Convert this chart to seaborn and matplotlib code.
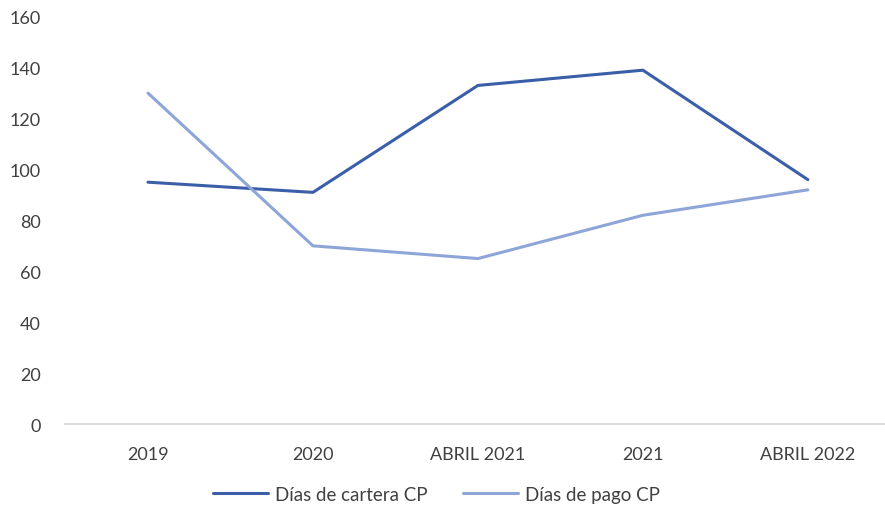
import pandas as pd
import seaborn as sns
import matplotlib.pyplot as plt

# Datos
periodos = ['2019', '2020', 'ABRIL 2021', '2021', 'ABRIL 2022']
dias_cartera = [95, 91, 133, 139, 96]
dias_pago = [130, 70, 65, 82, 92]
series = ['Días de cartera CP', 'Días de pago CP']
colores = ['#3B5EA8', '#8EA5D8']

df = pd.DataFrame({
    'periodo': periodos * 2,
    'dias': dias_cartera + dias_pago,
    'serie': [series[0]] * len(periodos) + [series[1]] * len(periodos),
})

sns.set_style('white')
plt.rcParams['font.family'] = ['Lato', 'DejaVu Sans']

fig = plt.figure(figsize=(8.85, 5.06), dpi=100)
ax = fig.add_axes([0.0740, 0.160, 0.932, 0.805])

sns.lineplot(data=df, x='periodo', y='dias', hue='serie', palette=colores,
             linewidth=2.2, sort=False, ax=ax)

ax.set_xlim(-0.5, len(periodos) - 0.5)
ax.set_ylim(0, 160)
ax.set_yticks(range(0, 161, 20))
ax.set_xlabel('')
ax.set_ylabel('')
for s in ['top', 'right', 'left']:
    ax.spines[s].set_visible(False)
ax.spines['bottom'].set_color('#D9D9D9')
ax.spines['bottom'].set_linewidth(1.3)
ax.tick_params(axis='both', length=0, labelsize=13, colors='#404040')
ax.tick_params(axis='x', pad=16)
ax.tick_params(axis='y', pad=18)

ax.legend(loc='lower center', bbox_to_anchor=(0.45, -0.235), ncol=2,
          frameon=False, fontsize=13.5, handlelength=2.9, handletextpad=0.4,
          columnspacing=1.9, labelcolor='#404040')

fig.savefig('out.png', dpi=100)
